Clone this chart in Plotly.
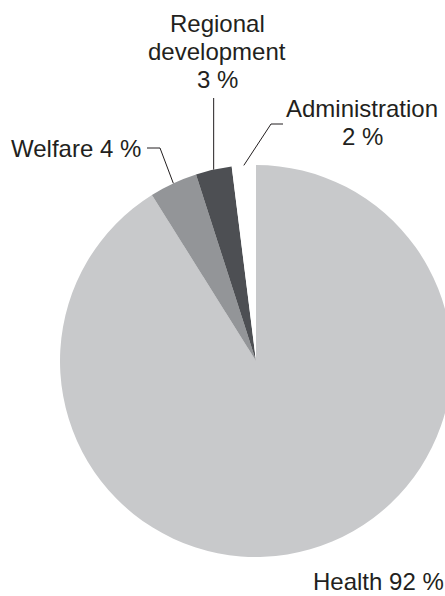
import math
import plotly.graph_objects as go

# Budget shares by sector (percent)
categories = ["Health", "Welfare", "Regional development", "Administration"]
shares = [92, 4, 3, 2]
colors = ["#c8c9cb", "#939598", "#4d4f53", "#ffffff"]

# Label text split into lines, positions of the label blocks (px from top-left)
label_lines = {
    "Health": [f"Health {shares[0]} %"],
    "Welfare": [f"Welfare {shares[1]} %"],
    "Regional development": ["Regional", "development", f"{shares[2]} %"],
    "Administration": ["Administration", f"{shares[3]} %"],
}
label_pos = {
    "Health": (378, 581.5),
    "Welfare": (76, 148.5),
    "Regional development": (217, 23.5),
    "Administration": (362, 108.5),
}
line_gap = 28

W, H = 460, 596
cx, cy, R = 256, 361, 196
TEXT = "#231f20"
FONT = "Liberation Sans, Arial, sans-serif"


def px(x, y):
    return x / W, 1 - y / H


fig = go.Figure(
    go.Pie(
        labels=categories,
        values=shares,
        marker=dict(colors=colors, line=dict(width=0)),
        sort=False,
        direction="clockwise",
        rotation=0,
        textinfo="none",
        hoverinfo="label+percent",
        showlegend=False,
        domain=dict(x=[(cx - R) / W, (cx + R) / W],
                    y=[1 - (cy + R) / H, 1 - (cy - R) / H]),
    )
)

# Mid-angle of each slice on the rim, measured clockwise from 12 o'clock
total = sum(shares)
rim = {}
acc = 0
for name, v in zip(categories, shares):
    mid = (acc + v / 2) / total * 2 * math.pi
    rim[name] = (cx + R * math.sin(mid), cy - R * math.cos(mid))
    acc += v

annotations = []
for name, lines in label_lines.items():
    x0, y0 = label_pos[name]
    for i, t in enumerate(lines):
        ax, ay = px(x0, y0 + i * line_gap)
        annotations.append(dict(
            x=ax, y=ay, xref="paper", yref="paper", text=t, showarrow=False,
            xanchor="center", yanchor="middle",
            font=dict(family=FONT, size=24, color=TEXT),
        ))

# Leader lines from the labels to the slice rims
leaders = {
    "Welfare": [(147, 148), (160, 148)],
    "Regional development": [(None, 98)],
    "Administration": [(283, 124), (271, 124)],
}
shapes = []
for name, pts in leaders.items():
    ex, ey = rim[name]
    pts = [(ex if x is None else x, y) for x, y in pts] + [(ex, ey)]
    path = "M " + " L ".join(f"{px(x, y)[0]},{px(x, y)[1]}" for x, y in pts)
    shapes.append(dict(type="path", path=path, xref="paper", yref="paper",
                       line=dict(color=TEXT, width=1)))

fig.update_layout(
    width=W, height=H,
    margin=dict(l=0, r=0, t=0, b=0),
    paper_bgcolor="white", plot_bgcolor="white",
    annotations=annotations, shapes=shapes,
)

fig.write_html(
    "out.html",
    config={"displayModeBar": False},
    post_script="document.documentElement.style.overflow='hidden';"
                "document.body.style.overflow='hidden';"
                "document.body.style.margin='0';",
)
